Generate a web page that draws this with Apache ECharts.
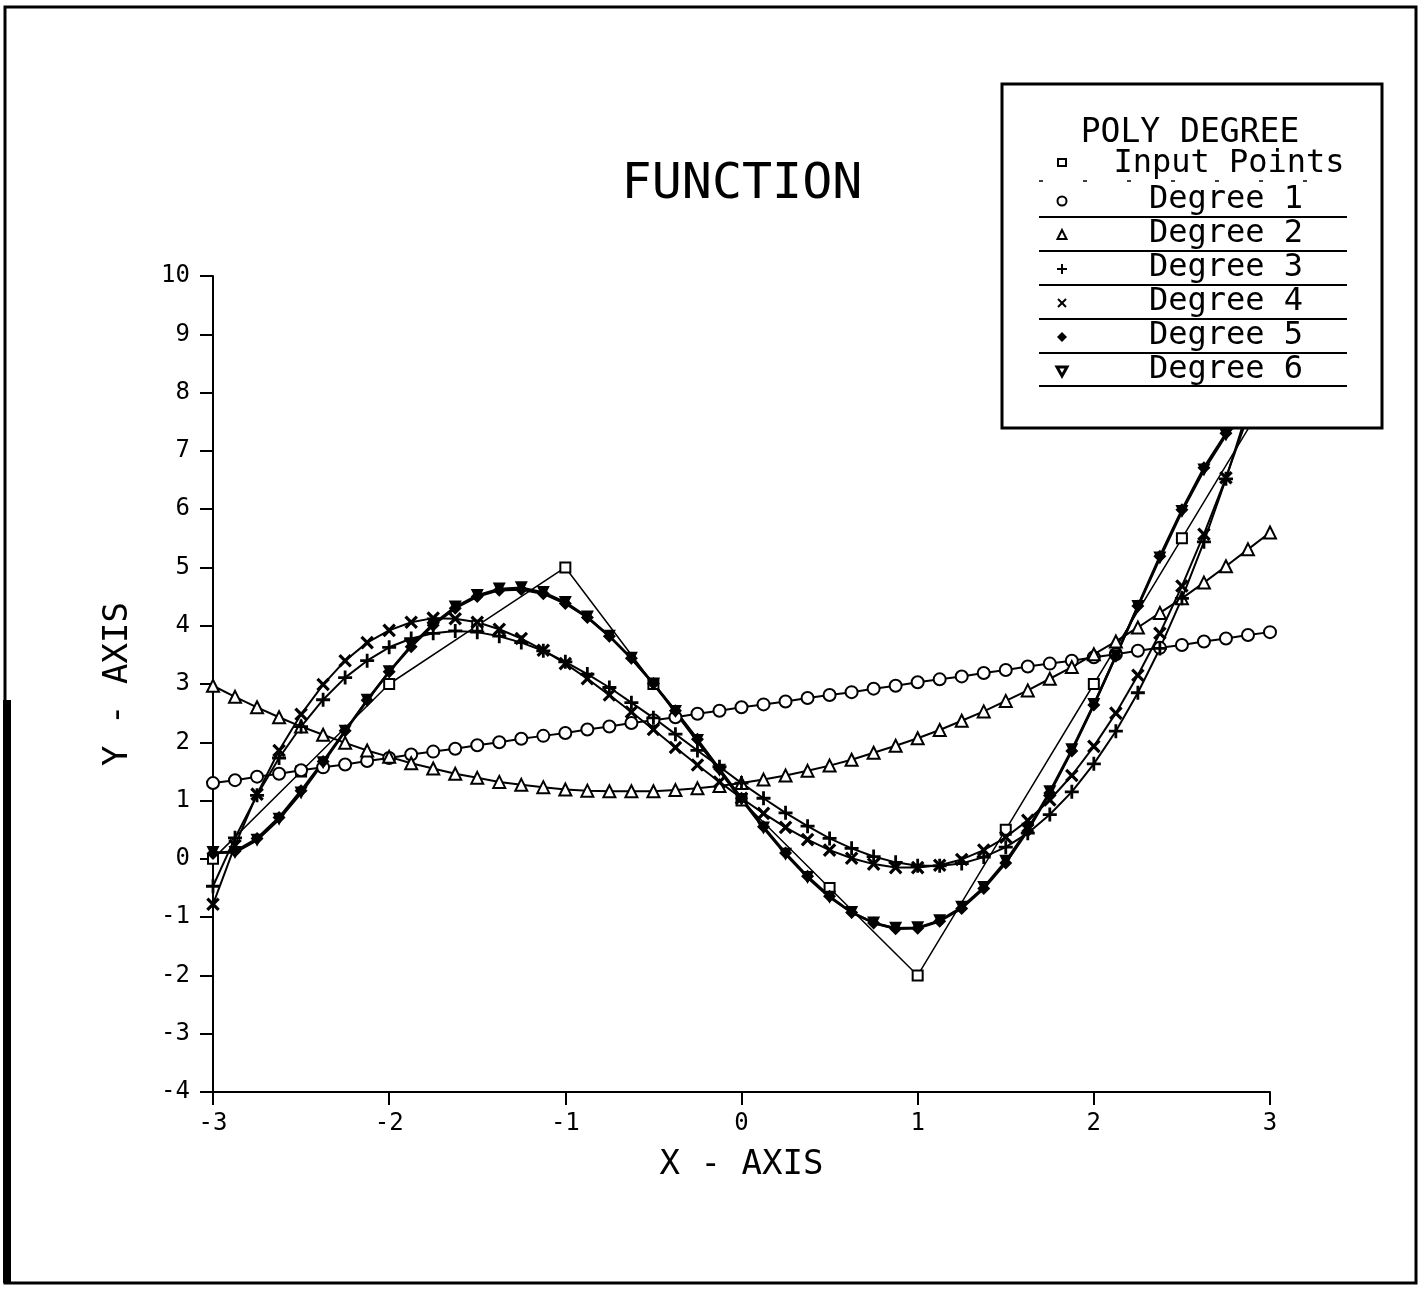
<!DOCTYPE html>
<html><head><meta charset="utf-8">
<script src="https://cdn.jsdelivr.net/npm/echarts@6/dist/echarts.min.js"></script>
<style>html,body{margin:0;padding:0;background:#fff}#c{width:1421px;height:1289px}</style>
</head><body><div id="c"></div>
<script>
// ---------------- data ----------------
const xGrid = [-3,-2.875,-2.75,-2.625,-2.5,-2.375,-2.25,-2.125,-2,-1.875,-1.75,-1.625,-1.5,-1.375,-1.25,-1.125,-1,-0.875,-0.75,-0.625,-0.5,-0.375,-0.25,-0.125,0,0.125,0.25,0.375,0.5,0.625,0.75,0.875,1,1.125,1.25,1.375,1.5,1.625,1.75,1.875,2,2.125,2.25,2.375,2.5,2.625,2.75,2.875,3];
const inputX = [-3,-2.5,-2,-1.5,-1,-0.5,0,0.5,1,1.5,2,2.5,3];
const inputY = [0,1.5,3,4,5,3,1,-0.5,-2,0.5,3,5.5,8];
const degree1 = [1.30,1.35,1.41,1.46,1.52,1.57,1.62,1.68,1.73,1.79,1.84,1.89,1.95,2.00,2.06,2.11,2.16,2.22,2.27,2.33,2.38,2.43,2.49,2.54,2.60,2.65,2.70,2.76,2.81,2.86,2.92,2.97,3.03,3.08,3.13,3.19,3.24,3.30,3.35,3.40,3.46,3.51,3.57,3.62,3.67,3.73,3.78,3.84,3.89];
const degree2 = [2.97,2.78,2.60,2.43,2.27,2.13,1.99,1.86,1.75,1.64,1.55,1.46,1.39,1.32,1.27,1.23,1.19,1.17,1.16,1.16,1.16,1.18,1.21,1.25,1.30,1.36,1.43,1.51,1.60,1.70,1.82,1.94,2.07,2.21,2.37,2.53,2.71,2.89,3.09,3.29,3.51,3.73,3.97,4.22,4.47,4.74,5.02,5.31,5.60];
const degree3 = [-0.47,0.36,1.09,1.73,2.27,2.73,3.11,3.40,3.63,3.78,3.87,3.91,3.89,3.82,3.71,3.57,3.38,3.17,2.94,2.68,2.42,2.14,1.86,1.58,1.30,1.04,0.79,0.56,0.35,0.18,0.04,-0.06,-0.12,-0.12,-0.08,0.03,0.20,0.44,0.76,1.15,1.63,2.19,2.85,3.61,4.47,5.44,6.52,7.72,9.05];
const degree4 = [-0.78,0.23,1.11,1.86,2.48,2.99,3.40,3.71,3.92,4.06,4.13,4.12,4.06,3.94,3.78,3.58,3.35,3.09,2.81,2.52,2.22,1.91,1.61,1.32,1.04,0.78,0.54,0.33,0.15,0.01,-0.09,-0.15,-0.15,-0.11,-0.01,0.15,0.37,0.66,1.01,1.43,1.93,2.50,3.15,3.87,4.68,5.57,6.54,7.60,8.74];
const degree5 = [0.09,0.13,0.35,0.71,1.17,1.67,2.20,2.72,3.21,3.64,4.01,4.30,4.50,4.61,4.62,4.55,4.38,4.14,3.82,3.44,3.01,2.54,2.05,1.54,1.04,0.55,0.10,-0.30,-0.64,-0.92,-1.10,-1.20,-1.19,-1.07,-0.85,-0.51,-0.07,0.48,1.13,1.85,2.64,3.48,4.34,5.19,5.99,6.71,7.30,7.70,7.86];
const degree6 = [0.11,0.11,0.32,0.68,1.13,1.65,2.19,2.72,3.21,3.66,4.03,4.32,4.52,4.63,4.65,4.57,4.40,4.15,3.82,3.44,3.00,2.53,2.03,1.52,1.02,0.53,0.08,-0.32,-0.66,-0.92,-1.10,-1.19,-1.18,-1.06,-0.83,-0.49,-0.04,0.51,1.15,1.87,2.65,3.48,4.33,5.16,5.96,6.67,7.27,7.68,7.88];
const seriesNames = ['Input Points','Degree 1','Degree 2','Degree 3','Degree 4','Degree 5','Degree 6'];
const xRange = [-3, 3];
const yRange = [-4, 10];
const chartTitle = 'FUNCTION';
const legendTitle = 'POLY DEGREE';
const xAxisName = 'X - AXIS';
const yAxisName = 'Y - AXIS';

// ---------------- chart ----------------
const FONT = '"DejaVu Sans Mono", monospace';
const pair = (xs, ys) => xs.map((x, i) => [x, ys[i]]);
const PLUS = 'path://M4,0H6V4H10V6H6V10H4V6H0V4H4Z';

function lineSeries(name, data, symbol, size, hollow, extra) {
  return Object.assign({
    name, type: 'line', data, symbol, symbolSize: size,
    showSymbol: true, showAllSymbol: true, clip: true,
    lineStyle: { color: '#000', width: 2 },
    itemStyle: hollow ? { color: '#fff', borderColor: '#000', borderWidth: 2 } : { color: '#000', borderColor: '#000', borderWidth: 0 },
    emphasis: { disabled: true }, animation: false, silent: true
  }, extra || {});
}

const series = [
  lineSeries(seriesNames[0], pair(inputX, inputY), 'rect', 10, true, { lineStyle: { color: '#000', width: 1.5 } }),
  lineSeries(seriesNames[1], pair(xGrid, degree1), 'circle', 12, true),
  lineSeries(seriesNames[2], pair(xGrid, degree2), 'triangle', 12, true),
  lineSeries(seriesNames[3], pair(xGrid, degree3), PLUS, 14, false),
  lineSeries(seriesNames[4], pair(xGrid, degree4), PLUS, 16, false, { symbolRotate: 45 }),
  lineSeries(seriesNames[5], pair(xGrid, degree5), 'diamond', 13, false, { lineStyle: { color: '#000', width: 2.5 } }),
  lineSeries(seriesNames[6], pair(xGrid, degree6), 'triangle', 13, false, { symbolRotate: 180, lineStyle: { color: '#000', width: 2.5 } })
];

// legend drawn as graphic (box with title, symbols, centred names, underlines)
const LX = 1062, TX = 1226;
const rowsY = [165, 201, 235, 269, 303, 337, 371];
const underY = [217, 251, 285, 319, 353, 386];
const g = [];
g.push({ type: 'rect', z: 100, shape: { x: 1002, y: 84, width: 380, height: 344 }, style: { fill: '#fff', stroke: '#000', lineWidth: 3 } });
g.push({ type: 'text', z: 101, style: { text: legendTitle, x: 1190, y: 133, font: '33px ' + FONT, fill: '#000', align: 'center', verticalAlign: 'middle', textAlign: 'center', textVerticalAlign: 'middle' } });
seriesNames.forEach((n, i) => {
  g.push({ type: 'text', z: 101, style: { text: n, x: i === 0 ? 1229 : TX, y: rowsY[i] - 1, font: '32px ' + FONT, fill: '#000', align: 'center', verticalAlign: 'middle', textAlign: 'center', textVerticalAlign: 'middle' } });
});
underY.forEach(y => g.push({ type: 'line', z: 101, shape: { x1: 1039, y1: y, x2: 1347, y2: y }, style: { stroke: '#000', lineWidth: 2 } }));
g.push({ type: 'line', z: 101, shape: { x1: 1039, y1: 181, x2: 1345, y2: 181 }, style: { stroke: '#000', lineWidth: 1.5, lineDash: [4, 40] } });
const S = { stroke: '#000', lineWidth: 2 };
let y;
y = rowsY[0]; g.push({ type: 'rect', z: 101, shape: { x: LX - 4, y: y - 6, width: 8, height: 7 }, style: { fill: '#fff', stroke: '#000', lineWidth: 2 } });
y = rowsY[1]; g.push({ type: 'circle', z: 101, shape: { cx: LX, cy: y, r: 4.5 }, style: { fill: '#fff', stroke: '#000', lineWidth: 2 } });
y = rowsY[2]; g.push({ type: 'polygon', z: 101, shape: { points: [[LX, y - 5], [LX - 4.5, y + 4], [LX + 4.5, y + 4]] }, style: { fill: '#fff', stroke: '#000', lineWidth: 2 } });
y = rowsY[3]; g.push({ type: 'line', z: 101, shape: { x1: LX - 5, y1: y, x2: LX + 5, y2: y }, style: S }, { type: 'line', z: 101, shape: { x1: LX, y1: y - 5, x2: LX, y2: y + 5 }, style: S });
y = rowsY[4]; g.push({ type: 'line', z: 101, shape: { x1: LX - 4, y1: y - 4, x2: LX + 4, y2: y + 4 }, style: S }, { type: 'line', z: 101, shape: { x1: LX - 4, y1: y + 4, x2: LX + 4, y2: y - 4 }, style: S });
y = rowsY[5]; g.push({ type: 'polygon', z: 101, shape: { points: [[LX, y - 5], [LX + 5, y], [LX, y + 5], [LX - 5, y]] }, style: { fill: '#000' } });
y = rowsY[6]; g.push({ type: 'polygon', z: 101, shape: { points: [[LX - 5, y - 4], [LX + 5, y - 4], [LX, y + 5]] }, style: { fill: '#fff', stroke: '#000', lineWidth: 3 } });
// page frame
g.push({ type: 'rect', z: 0, shape: { x: 5, y: 7, width: 1411, height: 1276 }, style: { fill: 'none', stroke: '#000', lineWidth: 3 } });
g.push({ type: 'line', z: 0, shape: { x1: 7, y1: 700, x2: 7, y2: 1283 }, style: { stroke: '#000', lineWidth: 8 } });

const axisCommon = {
  type: 'value', splitLine: { show: false },
  axisLine: { show: true, onZero: false, lineStyle: { color: '#000', width: 2 } },
  axisTick: { show: true, inside: false, length: 13, lineStyle: { color: '#000', width: 2 } },
  nameLocation: 'middle',
  nameTextStyle: { fontFamily: FONT, fontSize: 34, color: '#000' }
};

const option = {
  backgroundColor: '#fff',
  animation: false,
  title: { text: chartTitle, left: 742, top: 160, padding: 0, textAlign: 'center', textStyle: { fontFamily: FONT, fontSize: 50, fontWeight: 'normal', color: '#000' } },
  grid: { left: 213, right: 151, top: 276, bottom: 197, containLabel: false },
  xAxis: Object.assign({}, axisCommon, {
    min: xRange[0], max: xRange[1], interval: 1, name: xAxisName, nameGap: 56,
    axisLabel: { margin: 20, fontFamily: FONT, fontSize: 24, color: '#000' }
  }),
  yAxis: Object.assign({}, axisCommon, {
    min: yRange[0], max: yRange[1], interval: 1, name: yAxisName, nameGap: 78, nameRotate: 90,
    axisLabel: { margin: 23, fontFamily: FONT, fontSize: 24, color: '#000' }
  }),
  graphic: { elements: g },
  series
};
const chart = echarts.init(document.getElementById('c'), null, { renderer: 'canvas' });
chart.setOption(option);
</script></body></html>
